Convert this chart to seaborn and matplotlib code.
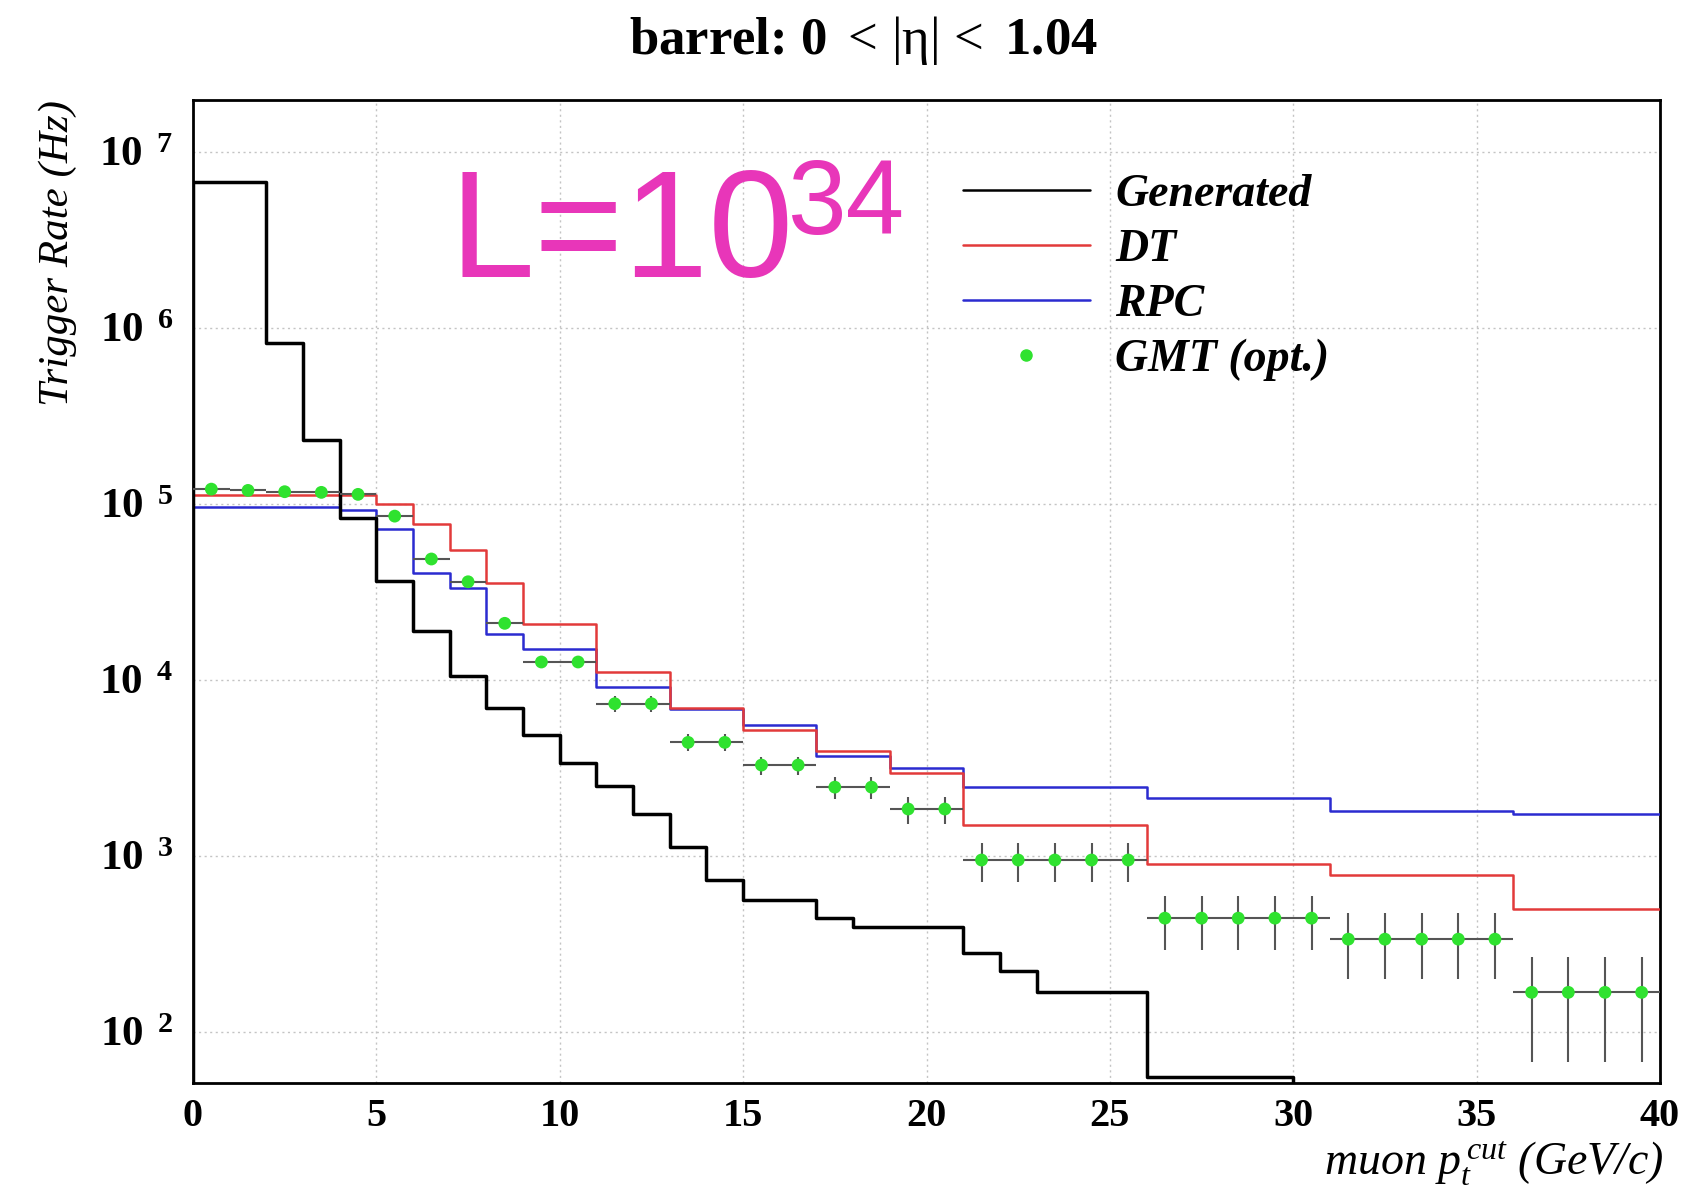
import matplotlib
matplotlib.use('Agg')
import matplotlib.pyplot as plt
import seaborn as sns
from matplotlib.lines import Line2D
from matplotlib.ticker import MultipleLocator, LogLocator, NullFormatter, FixedLocator, FixedFormatter

# ── data ───────────────────────────────────────────────────
gen_edges = [0, 2, 3, 4, 5, 6, 7, 8, 9, 10, 11, 12, 13, 14, 15, 17, 18, 21, 22, 23, 26, 30, 40]
gen_rate = [6.7e6, 8.2e5, 2.3e5, 8.3e4, 3.66e4, 1.88e4, 1.05e4, 6.9e3, 4.85e3, 3.35e3,
            2.49e3, 1.73e3, 1.12e3, 728, 560, 441, 395, 279, 222, 167, 55, 0]

dt_edges = [0, 5, 6, 7, 8, 9, 11, 13, 15, 17, 19, 21, 26, 31, 36, 40]
dt_rate = [1.12e5, 1.0e5, 7.7e4, 5.46e4, 3.56e4, 2.06e4, 1.11e4, 6.9e3, 5.17e3,
           3.93e3, 2.94e3, 1.49e3, 893, 776, 498]

rpc_edges = [0, 4, 5, 6, 7, 8, 9, 11, 13, 15, 17, 19, 21, 26, 31, 36, 40]
rpc_rate = [9.55e4, 9.2e4, 7.2e4, 4.03e4, 3.31e4, 1.81e4, 1.49e4, 9.1e3, 6.8e3,
            5.5e3, 3.68e3, 3.14e3, 2.45e3, 2.12e3, 1.79e3, 1.72e3]

gmt_pt = [0.5, 1.5, 2.5, 3.5, 4.5, 5.5, 6.5, 7.5, 8.5, 9.5,
          10.5, 11.5, 12.5, 13.5, 14.5, 15.5, 16.5, 17.5, 18.5, 19.5,
          20.5, 21.5, 22.5, 23.5, 24.5, 25.5, 26.5, 27.5, 28.5, 29.5,
          30.5, 31.5, 32.5, 33.5, 34.5, 35.5, 36.5, 37.5, 38.5, 39.5]
gmt_rate = [1.21e5, 1.19e5, 1.17e5, 1.16e5, 1.13e5, 8.5e4, 4.85e4, 3.6e4, 2.09e4, 1.26e4,
            1.26e4, 7.3e3, 7.3e3, 4.4e3, 4.4e3, 3.27e3, 3.27e3, 2.45e3, 2.45e3, 1.84e3,
            1.84e3, 944, 944, 944, 944, 944, 441, 441, 441, 441,
            441, 335, 335, 335, 335, 335, 167, 167, 167, 167]
gmt_err = [3e3, 3e3, 3e3, 3e3, 3e3, 2.5e3, 2e3, 1.7e3, 1.3e3, 1e3,
           1e3, 750, 750, 480, 480, 385, 385, 345, 345, 318,
           318, 232, 232, 232, 232, 232, 150, 150, 150, 150,
           150, 136, 136, 136, 136, 136, 100, 100, 100, 100]

ytick_vals = [1e2, 1e3, 1e4, 1e5, 1e6, 1e7]
ytick_labels = [r'10$^{\ \ \mathbf{2}}$', r'10$^{\ \ \mathbf{3}}$', r'10$^{\ \ \mathbf{4}}$',
                r'10$^{\ \ \mathbf{5}}$', r'10$^{\ \ \mathbf{6}}$', r'10$^{\ \ \mathbf{7}}$']

# ── style ──────────────────────────────────────────────────
sns.set_style('white')
plt.rcParams['font.family'] = ['Liberation Serif', 'DejaVu Serif']
plt.rcParams['mathtext.fontset'] = 'custom'
plt.rcParams['mathtext.rm'] = 'Liberation Serif'
plt.rcParams['mathtext.it'] = 'Liberation Serif:italic'
plt.rcParams['mathtext.bf'] = 'Liberation Serif:bold'
for k in ['text.color', 'axes.labelcolor', 'xtick.color', 'ytick.color']:
    plt.rcParams[k] = 'black'

W, H = 1698, 1192
fig = plt.figure(figsize=(W / 100, H / 100), dpi=100)
ax = fig.add_axes([193 / W, 1 - 1083 / H, (1660 - 193) / W, (1083 - 100) / H])

c_gen, c_dt, c_rpc, c_gmt = 'black', '#e23a3a', '#2b2bd0', '#2fe22f'


def hist_steps(edges, vals):
    # ROOT-like histogram outline, starting from the baseline at the first edge
    return [edges[0]] + list(edges), [0] + list(vals) + [vals[-1]]


for edges, vals, col, lw in [(rpc_edges, rpc_rate, c_rpc, 1.8),
                             (dt_edges, dt_rate, c_dt, 1.8),
                             (gen_edges, gen_rate, c_gen, 2.5)]:
    xs, ys = hist_steps(edges, vals)
    sns.lineplot(x=xs, y=ys, estimator=None, sort=False, drawstyle='steps-post',
                 color=col, linewidth=lw, ax=ax, zorder=3)

ax.errorbar(gmt_pt, gmt_rate, xerr=0.5, yerr=gmt_err, fmt='none',
            ecolor='#555555', elinewidth=1.5, capsize=0, zorder=4)
sns.scatterplot(x=gmt_pt, y=gmt_rate, color=c_gmt, s=85, edgecolor='none',
                ax=ax, zorder=5)

ax.set_yscale('log', nonpositive='clip')
ax.set_xlim(0, 40)
ax.set_ylim(51, 1.97e7)

ax.xaxis.set_major_locator(MultipleLocator(5))
ax.xaxis.set_minor_locator(MultipleLocator(1))
ax.yaxis.set_major_locator(FixedLocator(ytick_vals))
ax.yaxis.set_major_formatter(FixedFormatter(ytick_labels))
ax.yaxis.set_minor_locator(LogLocator(base=10, subs=range(2, 10)))
ax.yaxis.set_minor_formatter(NullFormatter())
ax.tick_params(which='both', direction='in', top=False, right=False, color='black')
ax.tick_params(which='major', length=12, width=1.1)
ax.tick_params(which='minor', length=7, width=1.0)
ax.tick_params(axis='x', labelsize=29, pad=11)
ax.tick_params(axis='y', labelsize=31, pad=14)
for lab in ax.get_xticklabels() + ax.get_yticklabels():
    lab.set_fontweight('bold')

ax.grid(True, which='major', color='#c4c4c4', linestyle=(0, (1.5, 2.5)), linewidth=1.0)
ax.set_axisbelow(True)
for sp in ax.spines.values():
    sp.set_color('black')
    sp.set_linewidth(2.0)

ax.set_xlabel('')
ax.set_ylabel('')

# titles and axis labels
fig.text(863 / W, 1 - 54 / H, r'barrel: 0 $<\,|\mathrm{\eta}|\,<$ 1.04', ha='center',
         va='baseline', fontsize=38, fontweight='bold')
fig.text(58 / W, 1 - 100 / H, 'Trigger Rate (Hz)', rotation=90, ha='center', va='top',
         fontsize=31, fontstyle='italic')
fig.text(1664 / W, 1 - 1176 / H, r'muon $p_t^{\,cut}$ (GeV/c)', ha='right', va='baseline',
         fontsize=33, fontstyle='italic')

# luminosity label
fig.text(449 / W, 1 - 277 / H, 'L=10', family='Liberation Sans', fontsize=110,
         color='#e836b9', ha='left', va='baseline')
fig.text(788 / W, 1 - 234 / H, '34', family='Liberation Sans', fontsize=76,
         color='#e836b9', ha='left', va='baseline')

# legend
handles = [Line2D([], [], color=c_gen, lw=1.8),
           Line2D([], [], color=c_dt, lw=1.8),
           Line2D([], [], color=c_rpc, lw=1.8),
           Line2D([], [], color=c_gmt, ls='none', marker='o', markersize=8)]
leg = fig.legend(handles, ['Generated', 'DT', 'RPC', 'GMT (opt.)'],
                 loc='upper left', bbox_to_anchor=(963 / W, 1 - 174 / H),
                 frameon=False, borderpad=0, borderaxespad=0, handlelength=2.77,
                 handletextpad=0.55, labelspacing=0.28,
                 prop={'family': 'Liberation Serif', 'weight': 'bold',
                       'style': 'italic', 'size': 33})

fig.savefig('out.png', dpi=100)
